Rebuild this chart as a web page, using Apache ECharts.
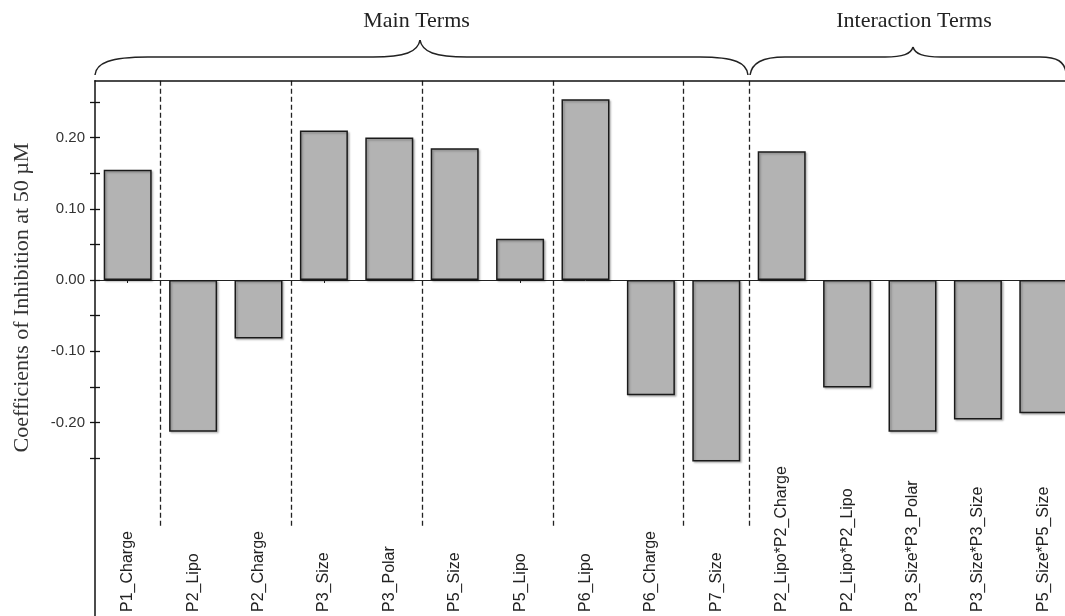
<!DOCTYPE html>
<html>
<head>
<meta charset="utf-8">
<script src="https://cdn.jsdelivr.net/npm/echarts@6/dist/echarts.min.js"></script>
<style>
html,body{margin:0;padding:0;overflow:hidden;background:#fff;}
#c{width:1080px;height:650px;}
</style>
</head>
<body>
<div id="c"></div>
<script>
// ---- data ----
const categories = [
  'P1_Charge','P2_Lipo','P2_Charge','P3_Size','P3_Polar','P5_Size','P5_Lipo',
  'P6_Lipo','P6_Charge','P7_Size',
  'P2_Lipo*P2_Charge','P2_Lipo*P2_Lipo','P3_Size*P3_Polar','P3_Size*P3_Size','P5_Size*P5_Size'
];
const coefficients = [
  0.155, -0.213, -0.082, 0.210, 0.200, 0.185, 0.058,
  0.254, -0.162, -0.255,
  0.181, -0.151, -0.213, -0.196, -0.187
];
// categories that start a new dashed-separated block
const blockStarts = ['P2_Lipo','P3_Size','P5_Size','P6_Lipo','P7_Size','P2_Lipo*P2_Charge'];
const yTickLabelValues = [-0.20, -0.10, 0.00, 0.10, 0.20];
const groupTitles = ['Main Terms', 'Interaction Terms'];
const yTitle = 'Coefficients of Inhibition at 50 \u00b5M';

// ---- layout ----
const PX = 712;            // pixels per unit on value axis
const LEFT = 95, BAND = 65.4;
const W = BAND * categories.length;
const ZERO_Y = 280;
const YMAX = 0.28, YMIN = -0.5;
const TOP = ZERO_Y - YMAX * PX;

const chart = echarts.init(document.getElementById('c'));

const braceStyle = {fill: null, stroke: '#222', lineWidth: 1.5};
function bez(x1, y1, c1x, c1y, c2x, c2y, x2, y2) {
  return {type: 'bezierCurve', shape: {x1: x1, y1: y1, cpx1: c1x, cpy1: c1y, cpx2: c2x, cpy2: c2y, x2: x2, y2: y2}, style: braceStyle, silent: true};
}
function seg(x1, y1, x2, y2) {
  return {type: 'line', shape: {x1: x1, y1: y1, x2: x2, y2: y2}, style: braceStyle, silent: true};
}
const braces = [
  // Main Terms brace
  bez(95, 75, 96, 63, 110, 57, 148, 57), seg(148, 57, 373, 57),
  bez(373, 57, 405, 57, 418, 52, 420, 40), bez(420, 40, 422, 52, 435, 57, 467, 57),
  seg(467, 57, 700, 57), bez(700, 57, 735, 57, 747, 63, 748, 75),
  // Interaction Terms brace
  bez(750, 75, 752, 63, 762, 57, 785, 57), seg(785, 57, 885, 57),
  bez(885, 57, 903, 57, 911, 54, 913, 47), bez(913, 47, 915, 54, 923, 57, 941, 57),
  seg(941, 57, 1040, 57), bez(1040, 57, 1058, 57, 1064, 62, 1066, 72)
];

chart.setOption({
  animation: false,
  backgroundColor: '#fff',
  grid: [
    {left: LEFT, top: TOP, width: W, height: (YMAX - YMIN) * PX},
    {left: LEFT, top: ZERO_Y - 0.25 * PX, width: W, height: 0.5 * PX},
    {left: LEFT, top: TOP, width: W, height: 527 - TOP}
  ],
  xAxis: [
    {
      gridIndex: 0, type: 'category', data: categories, position: 'bottom',
      axisLine: {show: false, onZero: false},
      axisTick: {show: false},
      axisLabel: {
        inside: true, rotate: 90, margin: 24, interval: 0,
        fontFamily: 'Liberation Sans', fontSize: 16, color: '#222'
      },
      splitLine: {show: false}
    },
    {
      gridIndex: 0, type: 'category', data: categories, position: 'top',
      axisLine: {show: true, onZero: false, lineStyle: {color: '#111', width: 1.5}},
      axisTick: {show: false}, axisLabel: {show: false}, splitLine: {show: false}
    },
    {
      gridIndex: 1, type: 'category', data: categories, position: 'bottom',
      axisLine: {show: true, onZero: true, lineStyle: {color: '#222', width: 1}},
      axisTick: {show: true, alignWithLabel: true, length: 3, lineStyle: {color: '#222'}},
      axisLabel: {show: false}, splitLine: {show: false}
    },
    {
      gridIndex: 2, type: 'category', data: categories, position: 'bottom',
      axisLine: {show: false, onZero: false}, axisTick: {show: false}, axisLabel: {show: false},
      splitLine: {
        show: true,
        interval: function (idx, value) { return blockStarts.indexOf(categories[idx]) >= 0 || blockStarts.indexOf(value) >= 0; },
        lineStyle: {color: '#222', width: 1.3, type: [5, 3]}
      }
    }
  ],
  yAxis: [
    {
      gridIndex: 0, type: 'value', min: YMIN, max: YMAX, position: 'left',
      axisLine: {show: true, lineStyle: {color: '#111', width: 1.5}},
      axisTick: {show: false}, axisLabel: {show: false}, splitLine: {show: false}
    },
    {
      gridIndex: 1, type: 'value', min: -0.25, max: 0.25, interval: 0.05, position: 'left',
      axisLine: {show: false},
      axisTick: {show: true, inside: false, length: 5, lineStyle: {color: '#111', width: 1.3}},
      axisLabel: {
        margin: 10, fontFamily: 'Liberation Sans', fontSize: 15, color: '#333',
        formatter: function (v) {
          const hit = yTickLabelValues.some(t => Math.abs(t - v) < 1e-6);
          return hit ? v.toFixed(2) : '';
        }
      },
      splitLine: {show: false}
    },
    {
      gridIndex: 1, type: 'value', min: -0.25, max: 0.25, interval: 0.05, position: 'left',
      axisLine: {show: false},
      axisTick: {show: true, inside: true, length: 5, lineStyle: {color: '#111', width: 1.3}},
      axisLabel: {show: false}, splitLine: {show: false}
    },
    {
      gridIndex: 2, type: 'value', show: false
    }
  ],
  series: [
    {
      type: 'bar', xAxisIndex: 0, yAxisIndex: 0,
      data: coefficients, barWidth: 48,
      itemStyle: {
        color: '#b3b3b3', borderColor: '#1a1a1a', borderWidth: 1.5,
        shadowColor: 'rgba(0,0,0,0.25)', shadowBlur: 2, shadowOffsetX: 1.5, shadowOffsetY: 1.5
      },
      z: 3
    }
  ],
  graphic: [
    {
      type: 'text', x: 22, y: 297.5, rotation: Math.PI / 2,
      style: {text: yTitle, font: '22px "Liberation Serif"', fill: '#333', align: 'center', verticalAlign: 'middle'}
    },
    {
      type: 'text', x: 416.5, y: 21,
      style: {text: groupTitles[0], font: '22px "Liberation Serif"', fill: '#222', align: 'center', verticalAlign: 'middle'}
    },
    {
      type: 'text', x: 914, y: 21,
      style: {text: groupTitles[1], font: '22px "Liberation Serif"', fill: '#222', align: 'center', verticalAlign: 'middle'}
    }
  ].concat(braces)
});
</script>
</body>
</html>
